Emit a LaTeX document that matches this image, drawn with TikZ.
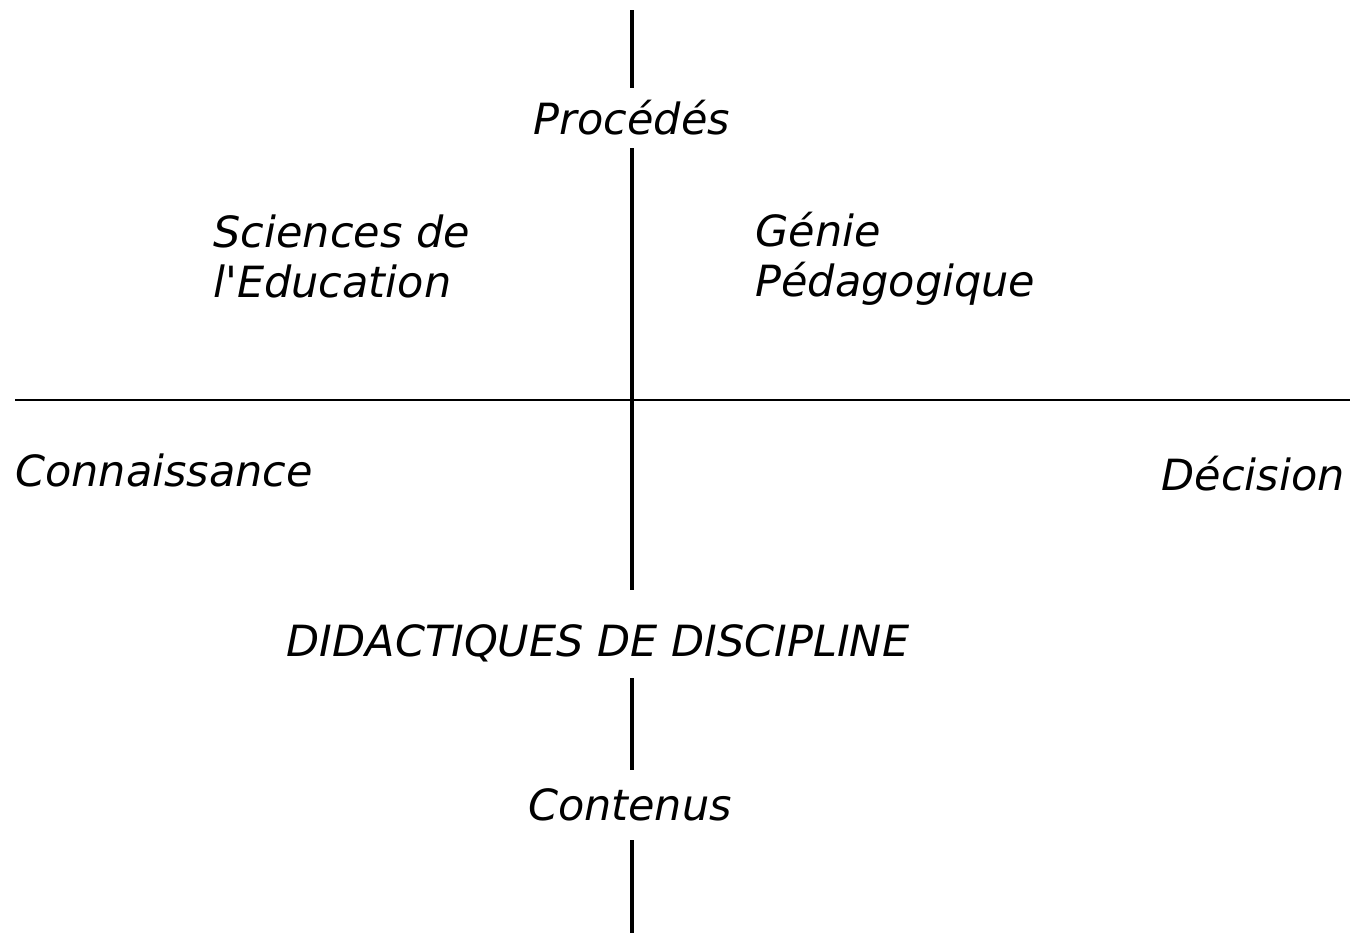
\documentclass[tikz,border=0pt]{standalone}
\usepackage{fontspec}
\setmainfont{DejaVu Sans}[Ligatures=TeXOff]
\begin{document}
\begin{tikzpicture}[x=0.5pt,y=-0.5pt,
  lbl/.style={font=\fontsize{21.5}{25}\selectfont\itshape, inner sep=0pt},
  axis/.style={line width=1.6pt, black}]
\useasboundingbox (0,0) rectangle (1350,933);
\coordinate (top) at (632,10);
\coordinate (bot) at (632,933);
\coordinate (left) at (15,400);
\coordinate (right) at (1350,400);
\node[lbl, minimum height=30pt] (proc) at (632,118) {Procédés};
\node[lbl, minimum height=44pt, text height=22pt, text depth=0pt] (did) at (598,634) {DIDACTIQUES DE DISCIPLINE};
\node[lbl, minimum height=35pt] (cont) at (630,805) {Contenus};
\node[lbl, anchor=west, align=left] (sci) at (213,256) {Sciences de\\l'Education};
\node[lbl, anchor=west, align=left] (gen) at (755,259) {Génie\\Pédagogique};
\node[lbl, anchor=west] (conn) at (15,470) {Connaissance};
\node[lbl, anchor=east] (dec) at (1345,474) {Décision};
\draw[axis] (top) -- (proc.north -| top);
\draw[axis] (proc.south -| top) -- (did.north -| top);
\draw[axis] (did.south -| top) -- (cont.north -| top);
\draw[axis] (cont.south -| top) -- (bot);
\draw[line width=1.2pt] (left) -- (right);
\end{tikzpicture}
\end{document}
